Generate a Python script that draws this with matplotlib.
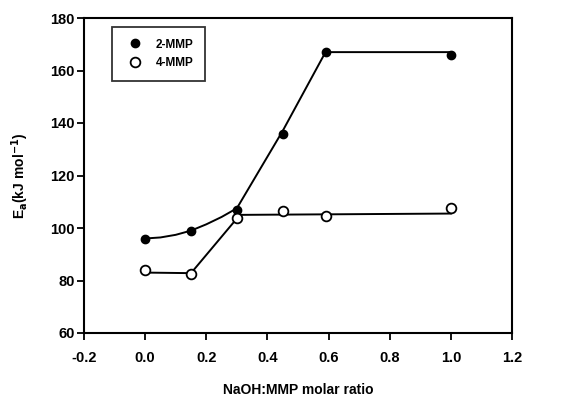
import matplotlib
matplotlib.use('Agg')
from matplotlib import pyplot as plt
import numpy as np

# %% Data

ratio = [0.0, 0.15, 0.30, 0.45, 0.59, 1.0]
ea_2mmp = [96, 99, 107, 136, 167, 166]
ea_4mmp = [84, 82.5, 104, 106.5, 104.5, 107.5]

# fitted curves drawn through the points
fit_x_2mmp = [0.0, 0.05, 0.10, 0.15, 0.20, 0.25, 0.30, 0.45, 0.59, 1.0]
fit_y_2mmp = [96, 96.4, 97.4, 99.0, 101.4, 104.2, 107.5, 137, 167, 167]
fit_x_4mmp = [0.01, 0.15, 0.31, 1.0]
fit_y_4mmp = [83, 82.8, 105, 105.5]

# %% Plot

plt.rcParams['font.family'] = ['Liberation Sans', 'DejaVu Sans']
plt.rcParams['font.weight'] = 'bold'

fig = plt.figure(figsize=(5.64, 3.99), dpi=100)
ax = fig.add_axes([84/564, 1-333/399, 428/564, 315/399])

ax.plot(fit_x_2mmp, fit_y_2mmp, color='black', lw=1.4)
ax.plot(fit_x_4mmp, fit_y_4mmp, color='black', lw=1.4)
ax.plot(ratio, ea_2mmp, 'o', color='black', ms=6, label='2-MMP')
ax.plot(ratio, ea_4mmp, 'o', mfc='white', mec='black', mew=1.3, ms=7, label='4-MMP')

ax.set_xlim(-0.2, 1.2)
ax.set_ylim(60, 180)
ax.set_xticks(np.arange(-0.2, 1.21, 0.2))
ax.set_yticks(np.arange(60, 181, 20))
ax.set_xticklabels(['-0.2', '0.0', '0.2', '0.4', '0.6', '0.8', '1.0', '1.2'])
ax.tick_params(direction='out', length=5, width=1.3, labelsize=10.5)
ax.tick_params(axis='x', pad=8)
ax.tick_params(axis='y', pad=1.5)
for s in ax.spines.values():
    s.set_linewidth(1.5)

ax.set_xlabel('NaOH:MMP molar ratio', fontsize=10, fontweight='bold', labelpad=13)
ax.set_ylabel(r'E$_{\mathbf{a}}$(kJ mol$^{\mathbf{-1}}$)', fontsize=10, fontweight='bold', labelpad=14)

leg = ax.legend(loc='upper left', bbox_to_anchor=(0.065, 0.972), fontsize=8.5,
                frameon=True, fancybox=False, edgecolor='black', borderpad=1.0,
                handletextpad=0.7, labelspacing=0.55, borderaxespad=0)
leg.get_frame().set_linewidth(1.3)

fig.savefig('out.png', dpi=100)
